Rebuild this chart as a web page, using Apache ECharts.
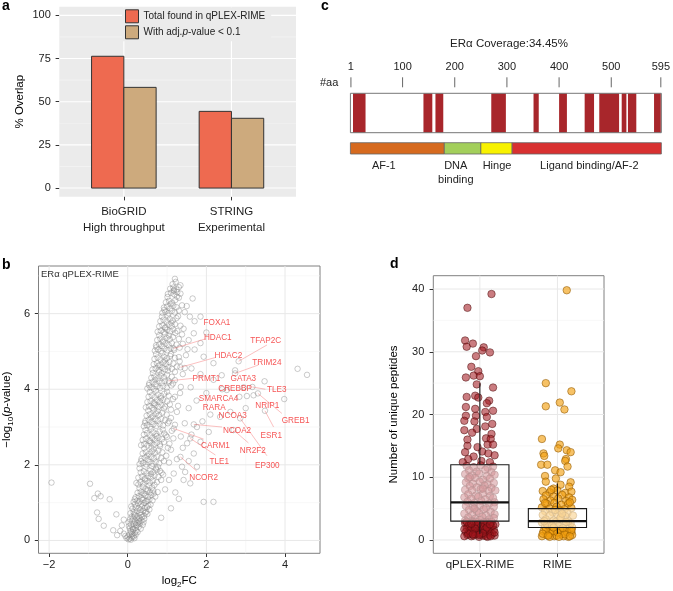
<!DOCTYPE html>
<html><head><meta charset="utf-8">
<script src="https://cdn.jsdelivr.net/npm/echarts@6/dist/echarts.min.js"></script>
<style>html,body{margin:0;padding:0;background:#fff}#c{width:673px;height:591px}</style>
</head><body><div id="c"></div>
<script>
// ---------- Panel a : overlap bars ----------
const overlapCategories = ['BioGRID\nHigh throughput', 'STRING\nExperimental'];
const overlapSeriesNames = ['Total found in qPLEX-RIME', 'With adj.p-value < 0.1'];
const overlapTotal = [76.3, 44.4];
const overlapAdj = [58.3, 40.4];
const overlapTicks = [0, 25, 50, 75, 100];
const overlapMinor = [12.5, 37.5, 62.5, 87.5];

// ---------- Panel b : volcano ----------
const volcanoPoints = [
[0.02,0.03],[0.05,0.05],[0.08,0.02],[0.1,0.08],[-0.03,0.06],[0.12,0.12],[0.15,0.1],[0.04,0.15],[0.18,0.2],[0.2,0.15],[0.09,0.22],[-0.06,0.12],[0.22,0.26],[0.14,0.28],[0.25,0.22],[0.0,0.1],[-0.1,0.18],[0.07,0.25],[0.17,0.06],[0.11,0.17],
[0.05,0.32],[0.12,0.35],[0.2,0.33],[0.28,0.36],[0.33,0.31],[0.08,0.42],[0.16,0.44],[0.24,0.4],[0.31,0.45],[0.38,0.41],[0.02,0.48],[0.11,0.52],[0.19,0.5],[0.27,0.55],[0.35,0.52],[0.42,0.57],[0.14,0.58],[0.22,0.6],[0.3,0.59],[0.06,0.56],[0.4,0.48],[0.25,0.46],
[0.1,0.63],[0.18,0.66],[0.26,0.64],[0.34,0.68],[0.42,0.65],[0.5,0.7],[0.07,0.72],[0.15,0.75],[0.23,0.78],[0.31,0.74],[0.39,0.79],[0.47,0.76],[0.55,0.82],[0.12,0.84],[0.2,0.87],[0.28,0.85],[0.36,0.9],[0.44,0.86],[0.52,0.92],[0.18,0.95],[0.26,0.98],[0.34,0.96],[0.42,0.99],[0.58,0.95],
[0.15,1.02],[0.23,1.05],[0.31,1.03],[0.39,1.07],[0.47,1.04],[0.55,1.08],[0.63,1.06],[0.2,1.14],[0.28,1.17],[0.36,1.12],[0.44,1.19],[0.52,1.15],[0.6,1.2],[0.7,1.16],[0.25,1.26],[0.33,1.29],[0.41,1.24],[0.49,1.3],[0.57,1.27],[0.65,1.32],[0.76,1.28],[0.3,1.38],[0.38,1.42],[0.46,1.36],[0.54,1.45],[0.62,1.4],
[0.22,1.52],[0.32,1.55],[0.4,1.51],[0.48,1.57],[0.56,1.53],[0.64,1.58],[0.74,1.54],[0.85,1.6],[0.27,1.66],[0.36,1.69],[0.44,1.64],[0.52,1.7],[0.6,1.67],[0.68,1.72],[0.78,1.68],[0.9,1.74],[0.33,1.8],[0.41,1.83],[0.49,1.78],[0.57,1.85],[0.65,1.81],[0.73,1.87],[0.82,1.84],[0.45,1.95],[0.61,1.97],[0.77,1.94],
[0.3,2.02],[0.39,2.05],[0.47,2.01],[0.55,2.07],[0.63,2.03],[0.71,2.08],[0.8,2.04],[0.92,2.1],[1.05,2.06],[0.35,2.16],[0.43,2.19],[0.51,2.14],[0.59,2.21],[0.67,2.17],[0.75,2.22],[0.85,2.18],[0.98,2.24],[0.38,2.3],[0.46,2.34],[0.54,2.29],[0.62,2.36],[0.7,2.32],[0.78,2.38],[0.88,2.33],[1.1,2.4],[0.6,2.46],
[0.34,2.52],[0.42,2.55],[0.5,2.51],[0.58,2.57],[0.66,2.53],[0.74,2.58],[0.82,2.54],[0.92,2.6],[1.06,2.56],[0.38,2.66],[0.46,2.69],[0.54,2.64],[0.62,2.71],[0.7,2.67],[0.78,2.72],[0.87,2.68],[1.0,2.74],[1.16,2.7],[0.41,2.8],[0.49,2.84],[0.57,2.79],[0.65,2.86],[0.73,2.82],[0.81,2.88],[0.93,2.83],[0.6,2.95],
[0.41,3.02],[0.49,3.05],[0.57,3.01],[0.65,3.07],[0.73,3.03],[0.81,3.08],[0.9,3.04],[1.02,3.1],[1.2,3.06],[0.45,3.16],[0.53,3.19],[0.61,3.14],[0.69,3.21],[0.77,3.17],[0.85,3.22],[0.95,3.18],[1.1,3.24],[0.48,3.3],[0.56,3.34],[0.64,3.29],[0.72,3.36],[0.8,3.32],[0.88,3.38],[0.99,3.33],[1.25,3.4],[0.67,3.46],
[0.46,3.52],[0.54,3.55],[0.62,3.51],[0.7,3.57],[0.78,3.53],[0.86,3.58],[0.95,3.54],[1.07,3.6],[1.28,3.56],[0.5,3.66],[0.58,3.69],[0.66,3.64],[0.74,3.71],[0.82,3.67],[0.9,3.72],[1.0,3.68],[1.15,3.74],[0.53,3.8],[0.61,3.84],[0.69,3.79],[0.77,3.86],[0.85,3.82],[0.93,3.88],[1.04,3.83],[1.33,3.9],[0.72,3.96],
[0.5,4.02],[0.58,4.05],[0.66,4.01],[0.74,4.07],[0.82,4.03],[0.9,4.08],[0.99,4.04],[1.11,4.1],[1.35,4.06],[0.55,4.16],[0.63,4.19],[0.71,4.14],[0.79,4.21],[0.87,4.17],[0.95,4.22],[1.05,4.18],[1.2,4.24],[0.6,4.3],[0.68,4.34],[0.76,4.29],[0.84,4.36],[0.92,4.32],[1.0,4.38],[1.12,4.33],[1.4,4.4],[0.8,4.46],
[0.63,4.52],[0.71,4.55],[0.79,4.51],[0.87,4.57],[0.95,4.53],[1.03,4.58],[1.12,4.54],[1.25,4.6],[1.45,4.56],[0.66,4.66],[0.74,4.69],[0.82,4.64],[0.9,4.71],[0.98,4.67],[1.06,4.72],[1.16,4.68],[1.32,4.74],[0.68,4.8],[0.76,4.84],[0.84,4.79],[0.92,4.86],[1.0,4.82],[1.08,4.88],[1.2,4.83],[1.48,4.9],[0.88,4.96],
[0.69,5.02],[0.77,5.05],[0.85,5.01],[0.93,5.07],[1.01,5.03],[1.09,5.08],[1.18,5.04],[1.32,5.1],[1.52,5.06],[0.72,5.16],[0.8,5.19],[0.88,5.14],[0.96,5.21],[1.04,5.17],[1.12,5.22],[1.24,5.18],[0.75,5.3],[0.83,5.34],[0.91,5.29],[0.99,5.36],[1.07,5.32],[1.15,5.38],[1.3,5.33],[0.95,5.46],
[0.76,5.52],[0.84,5.55],[0.92,5.51],[1.0,5.57],[1.08,5.53],[1.16,5.58],[1.26,5.54],[1.42,5.6],[0.8,5.66],[0.88,5.69],[0.96,5.64],[1.04,5.71],[1.12,5.67],[1.2,5.72],[1.34,5.68],[0.83,5.8],[0.91,5.84],[0.99,5.79],[1.07,5.86],[1.15,5.82],[1.24,5.88],[1.02,5.95],
[0.88,6.02],[0.96,6.05],[1.04,6.01],[1.12,6.07],[1.2,6.03],[1.3,6.08],[1.45,6.04],[0.92,6.16],[1.0,6.19],[1.08,6.14],[1.16,6.21],[1.24,6.17],[1.38,6.22],[0.97,6.3],[1.05,6.34],[1.13,6.29],[1.21,6.36],[1.3,6.42],
[1.02,6.52],[1.1,6.55],[1.18,6.51],[1.26,6.57],[1.34,6.53],[1.08,6.66],[1.16,6.69],[1.24,6.64],[1.14,6.78],[1.22,6.84],
[0.13,0.3],[0.21,0.41],[0.29,0.5],[0.36,0.62],[0.45,0.73],[0.03,0.38],[0.17,0.69],[0.32,0.81],[0.49,0.88],[0.09,0.9],
[0.18,1.09],[0.35,1.21],[0.51,1.34],[0.68,1.47],[0.27,1.48],[0.43,1.61],[0.59,1.76],[0.72,1.9],[0.3,1.91],[0.86,1.79],[0.5,1.05],[0.66,1.24],
[0.34,2.1],[0.5,2.24],[0.66,2.41],[0.82,2.49],[0.42,2.44],[0.57,2.62],[0.73,2.76],[0.89,2.93],[0.45,2.92],[1.02,2.45],[0.97,2.78],[1.12,2.9],
[0.44,3.11],[0.6,3.25],[0.76,3.42],[0.92,3.49],[0.52,3.44],[0.68,3.62],[0.84,3.76],[1.0,3.93],[0.56,3.93],[1.1,3.46],[1.2,3.8],[1.05,3.15],
[0.54,4.11],[0.7,4.25],[0.86,4.42],[1.02,4.49],[0.64,4.43],[0.78,4.62],[0.94,4.76],[1.1,4.93],[0.72,4.93],[1.2,4.46],[1.3,4.85],[1.15,4.15],
[0.73,5.11],[0.89,5.25],[1.05,5.42],[1.21,5.49],[0.8,5.43],[0.95,5.62],[1.11,5.76],[1.28,5.93],[0.87,5.92],[1.38,5.45],[1.4,5.2],
[0.93,6.1],[1.09,6.25],[1.25,6.45],[1.01,6.44],[1.17,6.6],[1.3,6.7],[1.2,6.92],
[1.21,1.27],[1.42,1.6],[1.59,1.51],[1.46,1.81],[1.17,1.77],[1.38,1.95],[1.76,1.95],[1.68,2.3],[1.85,2.61],[1.51,2.57],[2.06,2.87],[1.76,3.0],[2.1,3.33],[2.35,3.27],[2.61,3.4],[3.0,3.5],[2.84,3.8],[2.52,3.98],[2.18,4.25],[2.39,4.37],[2.73,4.5],[2.18,4.69],[1.93,4.86],[1.85,5.22],[1.68,5.48],[1.85,5.92],[1.58,5.92],[1.17,6.62],[1.34,6.75],[1.93,1.02],[2.18,1.02],[1.3,1.1],[1.55,2.1],[1.4,2.45],[1.62,2.8],[1.45,3.1],[1.9,3.15],[1.55,3.5],[1.75,3.7],[2.0,3.9],[1.6,4.05],[1.85,4.4],[1.62,4.55],[2.4,4.0],[1.7,5.05],[1.55,5.3],[2.0,5.5],[1.7,5.8],[1.5,6.2],[1.65,6.4],[2.95,4.05],[3.2,3.84],[3.03,3.82],[3.48,4.21],[3.98,3.74],[4.32,4.54],[4.56,4.38],[1.1,0.85],[0.95,1.35],[1.05,1.6],[0.85,0.6],[1.25,2.15],[1.35,2.75],
[1.17,5.08],[1.34,4.58],[2.82,4.74],[2.73,4.42],[1.04,4.22],[3.31,3.89],[3.49,3.43],[2.86,3.23],[1.68,3.07],[2.69,2.92],[1.17,2.96],[1.59,2.7],[1.34,2.21],[3.17,4.06],
[-1.94,1.53],[-0.96,1.5],[-0.76,1.24],[-0.85,1.12],[-0.69,1.17],[-0.46,1.09],[-0.78,0.74],[-0.74,0.57],[-0.61,0.39],[-0.29,0.69],[-0.37,0.27],[-0.19,0.25],[-0.27,0.14],[-0.15,0.4],[-0.1,0.55]
];
const geneNames = ['FOXA1','HDAC1','TFAP2C','HDAC2','TRIM24','PRMT1','GATA3','CREBBP','TLE3','SMARCA4','NRIP1','RARA','NCOA3','GREB1','NCOA2','ESR1','CARM1','NR2F2','TLE1','EP300','NCOR2'];
const geneLabelPos = [[2.27,5.76],[2.29,5.36],[3.51,5.28],[2.56,4.88],[3.54,4.70],[2.0,4.28],[2.94,4.29],[2.73,4.02],[3.79,3.98],[2.31,3.75],[3.55,3.57],[2.2,3.51],[2.67,3.30],[4.27,3.16],[2.78,2.89],[3.65,2.77],[2.23,2.50],[3.18,2.38],[2.33,2.07],[3.55,1.98],[1.93,1.67]];
const geneConnectors = [
[1.17,5.08,1.97,5.33],[1.34,4.58,2.23,4.84],[2.82,4.74,3.54,5.17],[2.73,4.42,3.32,4.64],[1.04,4.22,1.67,4.29],
[3.17,4.06,3.5,4.0],[3.31,3.89,3.92,3.36],[3.49,3.43,3.71,3.0],[2.86,3.23,3.54,2.24],[1.68,3.07,2.4,3.0],
[2.69,2.92,3.07,2.58],[1.17,2.96,1.93,2.68],[1.59,2.7,2.23,2.26],[1.34,2.21,1.76,1.83]
];
const volcanoXTicks = [-2, 0, 2, 4];
const volcanoXMinor = [-1, 1, 3];
const volcanoYTicks = [0, 2, 4, 6];
const volcanoYMinor = [1, 3, 5, 7];

// ---------- Panel c : ERα coverage ----------
const coverageTitle = 'ERα Coverage:34.45%';
const aaTicks = [1, 100, 200, 300, 400, 500, 595];
const proteinLength = 595;
const coveredSegments = [[5,29],[140,157],[163,178],[270,298],[351,361],[400,415],[449,467],[477,515],[520,529],[532,548],[582,595]];
const domainNames = ['AF-1', 'DNA\nbinding', 'Hinge', 'Ligand binding/AF-2'];
const domainStart = [1, 180, 250, 310];
const domainEnd = [180, 250, 310, 595];
const domainLabelAt = [64, 202, 281, 458];

// ---------- Panel d : unique peptides ----------
const peptideGroups = ['qPLEX-RIME', 'RIME'];
const qplexPeptides = [
[1.15,39.2],[0.84,37.0],[0.81,31.8],[0.91,31.3],[0.83,30.8],[1.05,30.7],[1.03,30.2],[1.13,29.9],[0.95,29.3],[0.89,27.6],[0.98,26.9],[0.92,26.2],[0.82,25.9],[1.0,26.1],[0.96,24.8],[1.17,24.3],[0.83,22.8],[0.94,23.0],[0.98,22.7],[1.12,22.2],[1.09,21.8],[0.82,21.2],[0.94,20.9],[1.17,20.6],[1.07,20.4],[0.82,19.8],[0.95,19.8],[1.09,19.6],[0.8,19.0],[0.93,18.9],[1.16,18.5],[1.07,18.1],[0.96,17.7],[0.8,17.5],[0.9,17.1],[1.15,16.9],[0.84,16.0],[1.08,16.2],[1.14,16.1],[1.1,15.2],[1.17,15.2],[0.84,15.0],[0.97,14.8],[0.81,14.0],[1.03,14.1],[1.11,13.8],[1.19,13.5],[0.92,13.3],[0.85,12.9],[1.02,12.6],[0.78,12.4],[1.13,12.4],
[0.83,11.8],[0.92,11.6],[1.01,11.9],[1.1,11.5],[1.17,11.7],[0.86,11.1],[0.96,10.9],[1.07,11.2],[1.15,10.8],[0.81,10.5],[0.9,10.3],[0.99,10.6],[1.09,10.2],[1.19,10.4],[0.85,9.8],[0.94,9.9],[1.04,9.6],[1.13,9.8],[0.82,9.2],[0.91,9.0],[1.0,9.3],[1.1,8.9],[1.18,9.1],[0.87,8.6],[0.96,8.4],[1.06,8.7],[1.15,8.3],[0.81,8.0],[0.9,7.9],[1.01,8.1],[1.11,7.8],[1.2,7.9],[0.85,7.3],[0.95,7.1],[1.04,7.4],[1.13,7.0],[0.8,6.8],[0.89,6.6],[0.98,6.9],[1.07,6.5],[1.17,6.7],[0.84,6.1],[0.93,5.9],[1.02,6.2],[1.12,5.8],[1.19,6.0],[0.82,5.4],[0.91,5.2],[1.0,5.5],[1.08,5.1],[1.18,5.3],[0.86,4.8],[0.96,4.6],[1.05,4.9],[1.14,4.5],[0.8,4.2],[0.9,4.0],[0.99,4.3],[1.08,3.9],[1.19,4.1],[0.85,3.6],[0.94,3.4],[1.03,3.7],[1.12,3.3],[0.81,3.1],[0.9,3.0],[1.0,3.2],[1.09,2.9],[1.18,3.5],[0.87,10.0],[1.04,8.2],[0.93,5.0],
[0.81,2.7],[0.86,2.4],[0.91,2.8],[0.96,2.2],[1.01,2.6],[1.06,2.3],[1.1,2.7],[1.15,2.1],[1.2,2.5],[0.83,1.9],[0.88,1.7],[0.93,2.0],[0.98,1.6],[1.03,1.9],[1.08,1.5],[1.13,1.8],[1.18,1.6],[0.82,1.3],[0.87,1.1],[0.92,1.4],[0.97,1.0],[1.01,1.3],[1.06,0.9],[1.11,1.2],[1.16,1.0],[0.84,0.8],[0.89,0.6],[0.94,0.9],[0.99,0.5],[1.04,0.7],[1.08,0.6],[1.13,0.8],[1.19,0.7],[0.8,0.6],[0.85,2.2],[0.9,1.2],[0.95,2.9],[1.0,1.0],[1.05,2.8],[1.1,0.5],[1.15,2.9],[0.83,2.9],[0.92,0.7],[1.02,2.1],[1.12,1.4],[1.17,2.3],[0.87,1.5],[0.97,2.5],[1.07,1.7],[0.85,1.0],[0.94,1.8],[1.04,1.1],[1.14,0.6],[0.89,2.6],[0.99,0.8],[1.09,2.0],[1.19,1.2],[0.8,1.7],[0.91,0.9],[1.13,2.5]
];
const rimePeptides = [
[2.12,39.8],[1.85,25.0],[2.18,23.7],[1.85,21.3],[2.03,21.9],[2.09,20.8],[1.8,16.1],[2.03,15.2],[2.01,14.6],[2.12,14.3],[2.17,14.0],[1.82,13.8],[1.83,13.4],[2.11,12.9],[2.1,12.6],[1.79,12.0],[1.87,12.0],[2.13,11.7],[1.97,11.1],[2.04,10.8],[1.84,10.2],[1.98,9.8],[2.17,9.2],[1.85,9.3],[2.04,8.8],[2.15,8.5],[1.95,8.2],
[1.81,7.8],[1.9,7.6],[2.0,7.9],[2.1,7.5],[2.18,7.7],[1.85,7.1],[1.95,6.9],[2.06,7.2],[2.15,6.8],[1.82,6.5],[1.91,6.3],[2.01,6.6],[2.11,6.2],[2.19,6.4],[1.86,5.8],[1.96,5.9],[2.05,5.6],[2.14,5.8],[1.8,5.2],[1.9,5.0],[1.99,5.3],[2.09,4.9],[2.18,5.1],[1.84,4.6],[1.94,4.4],[2.03,4.7],[2.13,4.3],[1.81,4.0],[1.9,3.9],[2.0,4.1],[2.1,3.8],[2.2,3.9],[1.85,3.3],[1.95,3.1],[2.04,3.4],[2.14,3.0],[1.8,2.8],[1.89,2.6],[1.98,2.9],[2.08,2.5],[2.17,2.7],[1.84,2.1],[1.93,1.9],[2.02,2.2],[2.12,1.8],[2.19,2.0],[1.82,1.4],[1.91,1.2],[2.0,1.5],[2.08,1.1],[2.18,1.3],[1.86,0.8],[1.96,0.6],[2.05,0.9],[2.14,0.5],[1.8,0.6],[1.9,1.0],[1.99,0.7],[2.08,0.6],[2.19,0.8],[1.85,1.6],[1.94,1.4],[2.03,1.7],[2.12,1.3],[1.81,1.0],[1.9,0.5],[2.0,1.2],[2.09,0.9],[2.18,1.6],[1.87,2.4],[2.04,3.6],[1.93,2.3],[1.83,3.0],[1.97,4.8],[2.11,2.9],[2.16,0.6],[1.88,0.7],[2.02,0.5],[1.95,2.0],[2.07,1.9],[1.84,5.9],[2.16,6.0],[1.92,8.0],[2.06,4.2]
];
// [group position, lower whisker, Q1, median, Q3, upper whisker]
const peptideBoxes = [[1, 1, 3, 6, 12, 25], [2, 1, 2, 3, 5, 9]];
const peptideTicks = [0, 10, 20, 30, 40];
const peptideMinor = [5, 15, 25, 35];

// ---------- build ----------
const FONT = '"Liberation Sans", Arial, Helvetica, sans-serif';
const minus = v => String(v).replace('-', '\u2212');

function gridLines(idx, values, dir, color, width) {
  return {
    type: 'custom', xAxisIndex: idx, yAxisIndex: idx, silent: true, z: 1,
    data: values.map(v => [v, v]),
    renderItem(params, api) {
      const cs = params.coordSys;
      const p = api.coord([api.value(0), api.value(1)]);
      const shape = dir === 'h'
        ? { x1: cs.x, y1: p[1], x2: cs.x + cs.width, y2: p[1] }
        : { x1: p[0], y1: cs.y, x2: p[0], y2: cs.y + cs.height };
      return { type: 'line', shape, style: { stroke: color, lineWidth: width } };
    }
  };
}

function barSeries(name, values, offset, color) {
  return {
    type: 'custom', name, xAxisIndex: 0, yAxisIndex: 0, z: 3,
    itemStyle: { color },
    data: values.map((v, i) => [i + 1, v]),
    renderItem(params, api) {
      const x = api.value(0), v = api.value(1);
      const p0 = api.coord([x - 0.3 + offset, v]);
      const p1 = api.coord([x + offset, 0]);
      return { type: 'rect', shape: { x: p0[0], y: p0[1], width: p1[0] - p0[0], height: p1[1] - p0[1] },
        style: { fill: color, stroke: '#333', lineWidth: 1 } };
    }
  };
}

const tickStyle = { lineStyle: { color: '#333', width: 1 } };
const labelBase = { color: '#222', fontFamily: FONT };
const noLine = { show: false, onZero: false };

const xAxis = [
  { gridIndex: 0, type: 'value', min: 0.4, max: 2.6, axisLine: noLine, splitLine: { show: false },
    axisTick: { customValues: [1, 2], length: 3.7, ...tickStyle },
    axisLabel: { customValues: [1, 2], formatter: v => overlapCategories[Math.round(v) - 1], margin: 7, fontSize: 11.5, lineHeight: 16, ...labelBase } },
  { gridIndex: 1, type: 'value', min: -2.27, max: 4.89, axisLine: noLine, splitLine: { show: false },
    axisTick: { customValues: volcanoXTicks, length: 3.7, ...tickStyle },
    axisLabel: { customValues: volcanoXTicks, formatter: minus, margin: 6, fontSize: 11, ...labelBase },
    name: '{a|log}{s|2}{a|FC}', nameLocation: 'middle', nameGap: 20,
    nameTextStyle: { fontFamily: FONT, color: '#000', fontSize: 11.5, rich: { a: { fontSize: 11.5, fontFamily: FONT, color: '#000' }, s: { fontSize: 8, fontFamily: FONT, color: '#000', padding: [7, 0, 0, 0] } } } },
  { gridIndex: 2, type: 'value', position: 'top', min: -5, max: 600, axisLine: noLine, splitLine: { show: false },
    axisTick: { show: false },
    axisLabel: { customValues: aaTicks, margin: 14.5, fontSize: 11, ...labelBase } },
  { gridIndex: 3, type: 'value', min: 0.4, max: 2.6, axisLine: noLine, splitLine: { show: false },
    axisTick: { customValues: [1, 2], length: 3.7, ...tickStyle },
    axisLabel: { customValues: [1, 2], formatter: v => peptideGroups[Math.round(v) - 1], margin: 6, fontSize: 11.5, ...labelBase } }
];

const yAxis = [
  { gridIndex: 0, type: 'value', min: -5, max: 105, axisLine: noLine, splitLine: { show: false },
    axisTick: { customValues: overlapTicks, length: 3.7, ...tickStyle },
    axisLabel: { customValues: overlapTicks, margin: 8.5, fontSize: 11, ...labelBase },
    name: '% Overlap', nameLocation: 'middle', nameRotate: 90, nameGap: 33,
    nameTextStyle: { fontSize: 11.5, color: '#000', fontFamily: FONT } },
  { gridIndex: 1, type: 'value', min: -0.34, max: 7.26, axisLine: noLine, splitLine: { show: false },
    axisTick: { customValues: volcanoYTicks, length: 3.7, ...tickStyle },
    axisLabel: { customValues: volcanoYTicks, margin: 8.5, fontSize: 11, ...labelBase },
    name: '{a|\u2212log}{s|10}{a|(}{i|p}{a|-value)}', nameLocation: 'middle', nameRotate: 90, nameGap: 24,
    nameTextStyle: { fontFamily: FONT, color: '#000', fontSize: 11.5,
      rich: { a: { fontSize: 11.5, fontFamily: FONT, color: '#000' }, i: { fontSize: 11.5, fontStyle: 'italic', fontFamily: FONT, color: '#000' }, s: { fontSize: 8, fontFamily: FONT, color: '#000', padding: [7, 0, 0, 0] } } } },
  { gridIndex: 2, type: 'value', min: -30, max: 70, show: false, axisLine: noLine },
  { gridIndex: 3, type: 'value', min: -2.12, max: 42.12, axisLine: noLine, splitLine: { show: false },
    axisTick: { customValues: peptideTicks, length: 3.7, ...tickStyle },
    axisLabel: { customValues: peptideTicks, margin: 9, fontSize: 11, ...labelBase },
    name: 'Number of unique peptides', nameLocation: 'middle', nameRotate: 90, nameGap: 33,
    nameTextStyle: { fontSize: 11.5, color: '#000', fontFamily: FONT } }
];

const series = [];
// panel a grid lines
series.push(gridLines(0, overlapMinor, 'h', '#F5F5F5', 0.6));
series.push(gridLines(0, overlapTicks, 'h', '#FFFFFF', 1.1));
series.push(gridLines(0, [1, 2], 'v', '#FFFFFF', 1.1));
series.push(barSeries(overlapSeriesNames[0], overlapTotal, 0, '#EE6A50'));
series.push(barSeries(overlapSeriesNames[1], overlapAdj, 0.3, '#CDAA7D'));

// panel b
series.push(gridLines(1, volcanoXMinor, 'v', '#F3F3F3', 0.6));
series.push(gridLines(1, volcanoYMinor, 'h', '#F3F3F3', 0.6));
series.push(gridLines(1, volcanoXTicks, 'v', '#E8E8E8', 1));
series.push(gridLines(1, volcanoYTicks, 'h', '#E8E8E8', 1));
series.push({ type: 'scatter', xAxisIndex: 1, yAxisIndex: 1, z: 2, silent: true, symbol: 'circle', symbolSize: 5.5,
  itemStyle: { color: 'rgba(0,0,0,0)', borderColor: 'rgba(130,130,130,0.62)', borderWidth: 0.85 },
  data: volcanoPoints });
series.push({ type: 'custom', xAxisIndex: 1, yAxisIndex: 1, z: 4, silent: true, data: geneConnectors,
  renderItem(params, api) {
    const a = api.coord([api.value(0), api.value(1)]), b = api.coord([api.value(2), api.value(3)]);
    return { type: 'line', shape: { x1: a[0], y1: a[1], x2: b[0], y2: b[1] }, style: { stroke: 'rgba(245,110,110,0.55)', lineWidth: 0.8 } };
  } });
series.push({ type: 'scatter', xAxisIndex: 1, yAxisIndex: 1, z: 5, silent: true, symbolSize: 0.1,
  itemStyle: { color: 'rgba(0,0,0,0)' },
  data: geneNames.map((n, i) => ({ name: n, value: geneLabelPos[i] })),
  label: { show: true, position: 'inside', formatter: '{b}', color: '#F42A2A', fontSize: 8.2, fontFamily: FONT } });

// panel c
const COV_TOP = 64, COV_BOT = 24.6, DOM_TOP = 14.6, DOM_BOT = 3.3, LAB_TOP = -1.2, TICK_LO = 70, TICK_HI = 80;
series.push({ type: 'custom', xAxisIndex: 2, yAxisIndex: 2, z: 2, silent: true, data: aaTicks.map(v => [v, v]),
  renderItem(params, api) {
    const a = api.coord([api.value(0), TICK_LO]), b = api.coord([api.value(0), TICK_HI]);
    return { type: 'line', shape: { x1: a[0], y1: a[1], x2: b[0], y2: b[1] }, style: { stroke: '#666', lineWidth: 1 } };
  } });
series.push({ type: 'custom', xAxisIndex: 2, yAxisIndex: 2, z: 2, silent: true, data: [[0, proteinLength + 1]],
  renderItem(params, api) {
    const a = api.coord([api.value(0), COV_TOP]), b = api.coord([api.value(1), COV_BOT]);
    return { type: 'rect', shape: { x: a[0], y: a[1], width: b[0] - a[0], height: b[1] - a[1] }, style: { fill: '#fff', stroke: 'none' } };
  } });
series.push({ type: 'custom', xAxisIndex: 2, yAxisIndex: 2, z: 3, silent: true, data: coveredSegments,
  renderItem(params, api) {
    const a = api.coord([api.value(0), COV_TOP]), b = api.coord([api.value(1), COV_BOT]);
    return { type: 'rect', shape: { x: a[0], y: a[1], width: b[0] - a[0], height: b[1] - a[1] }, style: { fill: '#A8262B' } };
  } });
series.push({ type: 'custom', xAxisIndex: 2, yAxisIndex: 2, z: 4, silent: true, data: [[0, proteinLength + 1]],
  renderItem(params, api) {
    const a = api.coord([api.value(0), COV_TOP]), b = api.coord([api.value(1), COV_BOT]);
    return { type: 'rect', shape: { x: a[0], y: a[1], width: b[0] - a[0], height: b[1] - a[1] }, style: { fill: 'none', stroke: '#777', lineWidth: 1 } };
  } });
const domainColors = ['#D66A1F', '#A3CF5B', '#F8F200', '#D83131'];
series.push({ type: 'custom', xAxisIndex: 2, yAxisIndex: 2, z: 3, silent: true,
  data: domainNames.map((n, i) => [i === 0 ? 0 : domainStart[i], i === 3 ? domainEnd[i] + 1 : domainEnd[i], domainLabelAt[i], i]),
  renderItem(params, api) {
    const i = api.value(3);
    const a = api.coord([api.value(0), DOM_TOP]), b = api.coord([api.value(1), DOM_BOT]);
    const l = api.coord([api.value(2), LAB_TOP]);
    return { type: 'group', children: [
      { type: 'rect', shape: { x: a[0], y: a[1], width: b[0] - a[0], height: b[1] - a[1] }, style: { fill: domainColors[i], stroke: '#666', lineWidth: 0.8 } },
      { type: 'text', x: l[0], y: l[1], style: { text: domainNames[i], fill: '#222', fontSize: 11, fontFamily: FONT, align: 'center', verticalAlign: 'top', lineHeight: 14.3 } }
    ] };
  } });

// panel d
series.push(gridLines(3, peptideMinor, 'h', '#F3F3F3', 0.6));
series.push(gridLines(3, peptideTicks, 'h', '#E8E8E8', 1));
series.push(gridLines(3, [1, 2], 'v', '#E8E8E8', 1));
series.push({ type: 'scatter', xAxisIndex: 3, yAxisIndex: 3, z: 2, silent: true, symbolSize: 7.5,
  itemStyle: { color: 'rgba(160,22,28,0.7)', borderColor: 'rgba(75,12,12,0.8)', borderWidth: 0.8 }, data: qplexPeptides });
series.push({ type: 'scatter', xAxisIndex: 3, yAxisIndex: 3, z: 2, silent: true, symbolSize: 7.5,
  itemStyle: { color: 'rgba(243,160,15,0.8)', borderColor: 'rgba(140,85,0,0.85)', borderWidth: 0.8 }, data: rimePeptides });
series.push({ type: 'custom', xAxisIndex: 3, yAxisIndex: 3, z: 5, silent: true, data: peptideBoxes,
  renderItem(params, api) {
    const x = api.value(0), lo = api.value(1), q1 = api.value(2), med = api.value(3), q3 = api.value(4), hi = api.value(5);
    const w = 0.375;
    const a = api.coord([x - w, q3]), b = api.coord([x + w, q1]);
    const top = api.coord([x, hi]), bot = api.coord([x, lo]);
    const m1 = api.coord([x - w, med]), m2 = api.coord([x + w, med]);
    const ls = { stroke: '#1a1a1a', lineWidth: 1.1 };
    return { type: 'group', children: [
      { type: 'line', shape: { x1: top[0], y1: top[1], x2: top[0], y2: a[1] }, style: ls },
      { type: 'line', shape: { x1: bot[0], y1: b[1], x2: bot[0], y2: bot[1] }, style: ls },
      { type: 'rect', shape: { x: a[0], y: a[1], width: b[0] - a[0], height: b[1] - a[1] }, style: { fill: 'rgba(255,255,255,0.55)', stroke: '#1a1a1a', lineWidth: 1.1 } },
      { type: 'line', shape: { x1: m1[0], y1: m1[1], x2: m2[0], y2: m2[1] }, style: { stroke: '#111', lineWidth: 2.4 } }
    ] };
  } });

const letter = (t, left, top) => ({ text: t, left, top, padding: 0, textStyle: { fontSize: 14, fontWeight: 'bold', color: '#000', fontFamily: FONT } });

const option = {
  animation: false,
  textStyle: { fontFamily: FONT },
  title: [
    letter('a', 2, -1), letter('b', 2, 258), letter('c', 321, -1), letter('d', 390, 257),
    { text: coverageTitle, left: 509, top: 37.5, textAlign: 'center', padding: 0, textStyle: { fontSize: 11.5, fontWeight: 'normal', color: '#222', fontFamily: FONT } },
    { text: '#aa', left: 320, top: 77.5, padding: 0, textStyle: { fontSize: 11, fontWeight: 'normal', color: '#222', fontFamily: FONT } },
    { text: 'ERα qPLEX-RIME', left: 41, top: 269, padding: 0, textStyle: { fontSize: 9.5, fontWeight: 'normal', color: '#333', fontFamily: FONT } }
  ],
  legend: { left: 122, top: 7.3, orient: 'vertical', icon: 'rect', itemWidth: 13, itemHeight: 13, itemGap: 2, itemTextGap: 5,
    padding: [2, 6, 2, 3], backgroundColor: '#EBEBEB', selectedMode: false,
    textStyle: { fontSize: 10, color: '#222', fontFamily: FONT, rich: { i: { fontStyle: 'italic', fontSize: 10, color: '#222', fontFamily: FONT } } },
    formatter: n => n.replace('p-value', '{i|p}-value'),
    data: [
      { name: overlapSeriesNames[0], itemStyle: { color: '#EE6A50', borderColor: '#333', borderWidth: 1 } },
      { name: overlapSeriesNames[1], itemStyle: { color: '#CDAA7D', borderColor: '#333', borderWidth: 1 } }
    ] },
  grid: [
    { left: 59.3, top: 6.7, width: 236.7, height: 190, show: true, backgroundColor: '#EBEBEB', borderWidth: 0 },
    { left: 37.7, top: 266, width: 282.3, height: 287.3, show: true, backgroundColor: '#fff', borderColor: '#808080', borderWidth: 1 },
    { left: 347.8, top: 87.3, width: 319.2, height: 100 },
    { left: 433.3, top: 275.7, width: 170.7, height: 277.6, show: true, backgroundColor: '#fff', borderColor: '#808080', borderWidth: 1 }
  ],
  xAxis, yAxis, series
};

const chart = echarts.init(document.getElementById('c'), null, { renderer: 'canvas' });
chart.setOption(option);
</script>
</body></html>
